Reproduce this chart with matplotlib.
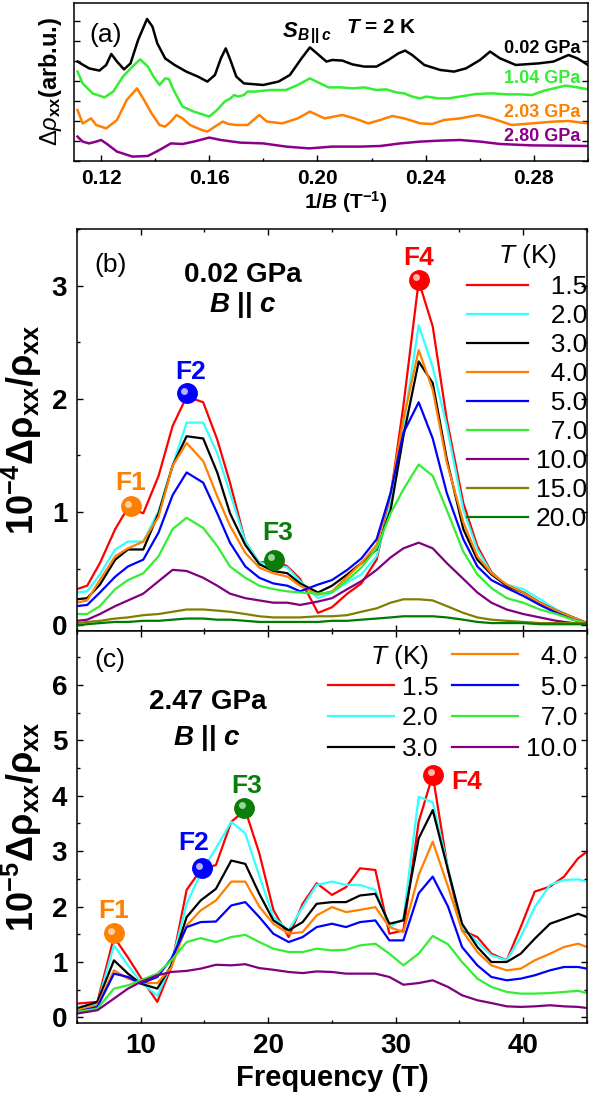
import matplotlib
matplotlib.use('Agg')
import matplotlib.pyplot as plt
from matplotlib.lines import Line2D
from matplotlib import transforms
from matplotlib.ticker import MultipleLocator, FixedLocator, NullFormatter

plt.rcParams['font.family'] = ['Liberation Sans', 'DejaVu Sans']
plt.rcParams['mathtext.fontset'] = 'custom'
plt.rcParams['mathtext.rm'] = 'Liberation Sans'
plt.rcParams['mathtext.it'] = 'Liberation Sans:italic'
plt.rcParams['mathtext.bf'] = 'Liberation Sans:bold'
plt.rcParams['mathtext.bfit'] = 'Liberation Sans:bold:italic'

# ---- panel (a): oscillations vs 1/B at T = 2 K (arbitrary offsets) ----
invb_002 = [0.1113, 0.1156, 0.1194, 0.1219, 0.1238, 0.1259, 0.1285, 0.1309, 0.1337, 0.1370,
            0.1390, 0.1408, 0.1437, 0.1472, 0.1515, 0.1558, 0.1593, 0.1621, 0.1643, 0.1661,
            0.1678, 0.1700, 0.1728, 0.1799, 0.1856, 0.1898, 0.1941, 0.1972, 0.1998, 0.2033,
            0.2055, 0.2092, 0.2129, 0.2173, 0.2218, 0.2262, 0.2299, 0.2324, 0.2350, 0.2395,
            0.2454, 0.2505, 0.2549, 0.2601, 0.2638, 0.2675, 0.2733, 0.2817, 0.2872, 0.2928,
            0.2961, 0.3000]
dr_002 = [4.97, 4.63, 4.52, 4.80, 5.35, 4.97, 4.58, 4.88, 6.05, 7.10,
          6.72, 5.88, 5.13, 4.80, 4.47, 4.22, 3.97, 4.30, 5.13, 5.63,
          5.05, 4.22, 3.88, 3.80, 3.97, 4.30, 5.13, 5.68, 5.38, 4.97,
          5.05, 5.02, 4.83, 4.72, 4.72, 5.05, 5.38, 5.52, 5.30, 4.80,
          4.55, 4.47, 4.63, 5.05, 5.47, 5.13, 4.80, 4.88, 4.97, 5.30,
          5.13, 4.80]

invb_104 = [0.1113, 0.1132, 0.1169, 0.1213, 0.1245, 0.1281, 0.1316, 0.1345, 0.1373, 0.1394,
            0.1416, 0.1437, 0.1451, 0.1465, 0.1501, 0.1543, 0.1600, 0.1629, 0.1657, 0.1678,
            0.1692, 0.1707, 0.1728, 0.1742, 0.1771, 0.1827, 0.1884, 0.1927, 0.1972, 0.2004,
            0.2041, 0.2085, 0.2129, 0.2173, 0.2218, 0.2254, 0.2291, 0.2321, 0.2350, 0.2380,
            0.2402, 0.2424, 0.2446, 0.2483, 0.2527, 0.2586, 0.2645, 0.2704, 0.2748, 0.2793,
            0.2839, 0.2917, 0.2961, 0.3000]
dr_104 = [4.47, 3.88, 3.38, 3.18, 3.47, 4.22, 4.72, 5.08, 4.72, 4.22,
          3.80, 4.13, 4.10, 3.63, 2.72, 2.47, 2.22, 2.55, 2.97, 3.13,
          3.30, 3.22, 3.30, 3.47, 3.47, 3.55, 3.55, 3.80, 4.13, 3.92,
          3.68, 3.68, 3.63, 3.68, 3.55, 3.58, 3.43, 3.38, 3.22, 3.13,
          3.22, 3.18, 3.13, 3.13, 3.22, 3.35, 3.38, 3.33, 3.33, 3.30,
          3.52, 3.77, 3.68, 3.58]

invb_203 = [0.1113, 0.1132, 0.1144, 0.1163, 0.1182, 0.1219, 0.1259, 0.1295, 0.1333, 0.1359,
            0.1387, 0.1416, 0.1437, 0.1458, 0.1479, 0.1501, 0.1529, 0.1572, 0.1593, 0.1621,
            0.1650, 0.1671, 0.1700, 0.1742, 0.1785, 0.1813, 0.1870, 0.1927, 0.1972, 0.2026,
            0.2092, 0.2137, 0.2188, 0.2232, 0.2277, 0.2321, 0.2380, 0.2424, 0.2468, 0.2527,
            0.2594, 0.2645, 0.2718, 0.2793, 0.2872, 0.2928, 0.3000]
dr_203 = [2.55, 1.88, 1.97, 2.13, 1.80, 1.63, 2.05, 3.05, 3.63, 3.05,
          2.38, 1.80, 1.72, 1.97, 2.30, 2.13, 1.80, 1.55, 1.47, 1.72,
          1.97, 1.85, 1.80, 1.80, 2.30, 1.97, 1.88, 2.13, 2.47, 2.13,
          2.30, 2.13, 1.88, 2.05, 2.25, 2.13, 1.88, 1.85, 2.05, 2.13,
          2.30, 2.13, 1.80, 1.88, 1.97, 2.00, 1.88]

invb_280 = [0.1113, 0.1132, 0.1156, 0.1182, 0.1200, 0.1219, 0.1259, 0.1316, 0.1373, 0.1416,
            0.1458, 0.1501, 0.1543, 0.1600, 0.1643, 0.1714, 0.1799, 0.1884, 0.1969, 0.2055,
            0.2159, 0.2232, 0.2306, 0.2380, 0.2454, 0.2527, 0.2601, 0.2675, 0.2793, 0.2872,
            0.3000]
dr_280 = [1.22, 0.97, 0.88, 0.97, 1.05, 0.88, 0.47, 0.22, 0.25, 0.55,
          0.88, 0.85, 0.97, 1.17, 1.05, 0.92, 0.88, 0.72, 0.63, 0.72,
          0.72, 0.75, 0.88, 0.97, 1.02, 1.05, 0.97, 0.85, 0.78, 0.77,
          0.75]

pressures_a = ['0.02 GPa', '1.04 GPa', '2.03 GPa', '2.80 GPa']
colors_a = ['#000000', '#33ee33', '#ff8000', '#8b008b']

# ---- panel (b): FFT amplitude, 0.02 GPa ----
freq_b = [5.0, 5.8, 6.8, 8.0, 9.0, 10.2, 11.4, 12.5, 13.6, 14.9, 16.0, 17.0, 18.2, 19.3,
          20.4, 21.5, 22.5, 23.9, 25.0, 26.2, 27.3, 28.5, 29.6, 30.6, 31.8, 32.9, 34.0,
          35.3, 36.4, 37.5, 38.7, 40.0, 41.3, 42.6, 43.9, 45.0]
b_1p5 = [0.32, 0.35, 0.55, 0.85, 1.04, 0.99, 1.32, 1.76, 2.02, 1.97, 1.64, 1.26, 0.74, 0.55,
         0.58, 0.52, 0.41, 0.11, 0.16, 0.28, 0.37, 0.58, 1.14, 1.94, 3.04, 2.64, 1.82,
         1.08, 0.70, 0.47, 0.35, 0.29, 0.20, 0.13, 0.07, 0.01]
b_2p0 = [0.29, 0.30, 0.45, 0.67, 0.74, 0.74, 1.01, 1.41, 1.79, 1.79, 1.52, 1.17, 0.74, 0.55,
         0.54, 0.51, 0.39, 0.24, 0.29, 0.38, 0.45, 0.61, 1.08, 1.76, 2.65, 2.28, 1.76,
         1.02, 0.67, 0.46, 0.36, 0.32, 0.23, 0.14, 0.07, 0.02]
b_3p0 = [0.23, 0.24, 0.36, 0.58, 0.67, 0.67, 0.99, 1.41, 1.67, 1.65, 1.35, 0.99, 0.71, 0.54,
         0.48, 0.46, 0.37, 0.29, 0.35, 0.45, 0.55, 0.67, 1.02, 1.67, 2.33, 2.14, 1.47,
         0.85, 0.58, 0.45, 0.35, 0.29, 0.20, 0.13, 0.07, 0.02]
b_4p0 = [0.20, 0.22, 0.40, 0.61, 0.68, 0.74, 0.96, 1.41, 1.61, 1.45, 1.14, 0.88, 0.64, 0.51,
         0.46, 0.43, 0.35, 0.27, 0.30, 0.43, 0.55, 0.71, 1.17, 1.82, 2.43, 2.08, 1.44,
         0.91, 0.61, 0.46, 0.36, 0.29, 0.20, 0.13, 0.07, 0.02]
b_5p0 = [0.17, 0.18, 0.29, 0.43, 0.52, 0.58, 0.82, 1.15, 1.35, 1.26, 0.99, 0.73, 0.52, 0.42,
         0.37, 0.35, 0.30, 0.36, 0.40, 0.49, 0.59, 0.76, 1.17, 1.70, 1.97, 1.65, 1.17,
         0.76, 0.52, 0.40, 0.33, 0.26, 0.18, 0.11, 0.05, 0.02]
b_7p0 = [0.10, 0.10, 0.17, 0.32, 0.40, 0.46, 0.61, 0.85, 0.95, 0.86, 0.70, 0.52, 0.42, 0.35,
         0.32, 0.30, 0.29, 0.28, 0.29, 0.40, 0.51, 0.68, 0.99, 1.20, 1.42, 1.32, 1.02,
         0.65, 0.45, 0.33, 0.24, 0.20, 0.14, 0.10, 0.05, 0.02]
b_10 = [0.04, 0.05, 0.10, 0.17, 0.22, 0.28, 0.39, 0.49, 0.48, 0.42, 0.35, 0.28, 0.24, 0.22,
        0.20, 0.20, 0.18, 0.21, 0.24, 0.32, 0.39, 0.49, 0.60, 0.68, 0.73, 0.68, 0.55,
        0.41, 0.29, 0.20, 0.14, 0.10, 0.07, 0.04, 0.02, 0.01]
b_15 = [0.02, 0.03, 0.04, 0.06, 0.07, 0.09, 0.10, 0.12, 0.14, 0.14, 0.13, 0.12, 0.10, 0.08,
        0.07, 0.07, 0.07, 0.08, 0.08, 0.09, 0.12, 0.15, 0.20, 0.23, 0.23, 0.22, 0.17,
        0.11, 0.07, 0.05, 0.04, 0.03, 0.02, 0.02, 0.02, 0.02]
b_20 = [0.00, 0.01, 0.02, 0.03, 0.03, 0.04, 0.04, 0.05, 0.06, 0.06, 0.05, 0.05, 0.04, 0.03,
        0.03, 0.03, 0.03, 0.03, 0.04, 0.04, 0.05, 0.06, 0.07, 0.08, 0.08, 0.08, 0.07,
        0.05, 0.03, 0.02, 0.02, 0.02, 0.01, 0.01, 0.01, 0.01]
temps_b = ['1.5', '2.0', '3.0', '4.0', '5.0', '7.0', '10.0', '15.0', '20.0']
colors_b = ['#ff0000', '#33ffff', '#000000', '#ff8000', '#0000ff', '#33ee33', '#800080',
            '#808000', '#007a00']

# ---- panel (c): FFT amplitude, 2.47 GPa ----
freq_c = [5.0, 6.6, 7.9, 9.0, 10.0, 11.3, 12.4, 13.6, 14.7, 15.9, 17.1, 18.2, 19.3, 20.4,
          21.6, 22.7, 23.8, 25.0, 26.1, 27.2, 28.4, 29.5, 30.6, 31.8, 32.9, 34.1, 35.2,
          36.4, 37.5, 38.7, 39.8, 40.9, 42.1, 43.2, 44.3, 45.0]
c_1p5 = [0.25, 0.28, 1.45, 1.08, 0.72, 0.28, 0.91, 2.30, 2.66, 2.75, 3.53, 3.74, 2.96, 1.94,
         1.45, 2.05, 2.42, 2.21, 2.35, 2.69, 2.66, 1.51, 1.57, 3.53, 4.37, 2.66, 1.57,
         1.45, 1.15, 1.03, 1.63, 2.27, 2.36, 2.54, 2.87, 2.99]
c_2p0 = [0.19, 0.24, 1.30, 0.94, 0.64, 0.39, 0.96, 2.05, 2.60, 3.05, 3.53, 3.32, 2.55, 1.81,
         1.57, 1.99, 2.39, 2.45, 2.39, 2.39, 2.30, 1.63, 1.78, 3.98, 3.88, 2.70, 1.63,
         1.36, 1.12, 1.03, 1.45, 1.99, 2.39, 2.48, 2.49, 2.45]
c_3p0 = [0.16, 0.28, 1.03, 0.79, 0.61, 0.52, 0.94, 1.81, 2.11, 2.32, 2.83, 2.77, 2.23, 1.75,
         1.57, 1.72, 2.05, 2.08, 2.08, 2.20, 2.23, 1.69, 1.75, 3.23, 3.74, 2.66, 1.69,
         1.27, 1.00, 1.00, 1.15, 1.42, 1.69, 1.78, 1.87, 1.81]
c_4p0 = [0.13, 0.22, 0.85, 0.70, 0.62, 0.62, 0.90, 1.66, 1.93, 2.11, 2.45, 2.45, 2.00, 1.69,
         1.51, 1.54, 1.84, 1.99, 1.90, 1.94, 1.99, 1.63, 1.54, 2.57, 3.17, 2.36, 1.57,
         1.18, 0.94, 0.85, 0.88, 1.03, 1.15, 1.27, 1.33, 1.27]
c_5p0 = [0.10, 0.19, 0.79, 0.73, 0.61, 0.73, 1.06, 1.63, 1.72, 1.73, 2.02, 2.08, 1.81, 1.51,
         1.36, 1.45, 1.63, 1.69, 1.63, 1.72, 1.75, 1.39, 1.39, 2.24, 2.54, 2.00, 1.27,
         0.94, 0.73, 0.67, 0.70, 0.76, 0.85, 0.91, 0.91, 0.88]
c_7p0 = [0.10, 0.16, 0.52, 0.58, 0.67, 0.79, 1.03, 1.36, 1.43, 1.36, 1.45, 1.49, 1.36, 1.24,
         1.18, 1.18, 1.24, 1.21, 1.22, 1.30, 1.33, 1.15, 0.94, 1.15, 1.47, 1.32, 1.00,
         0.70, 0.55, 0.46, 0.43, 0.43, 0.44, 0.46, 0.48, 0.44]
c_10 = [0.07, 0.13, 0.34, 0.52, 0.64, 0.76, 0.82, 0.84, 0.88, 0.95, 0.94, 0.96, 0.89, 0.86,
        0.82, 0.80, 0.83, 0.82, 0.79, 0.79, 0.79, 0.73, 0.59, 0.62, 0.67, 0.55, 0.40,
        0.31, 0.26, 0.20, 0.19, 0.20, 0.22, 0.20, 0.19, 0.17]
temps_c = ['1.5', '2.0', '3.0', '4.0', '5.0', '7.0', '10.0']
colors_c = colors_b[:7]

# peak markers: (label, frequency, amplitude, colour)
peaks_b = [('F1', 9.2, 1.05, '#ff8000'), ('F2', 13.6, 2.05, '#0000ff'),
           ('F3', 20.45, 0.58, '#0a7d0a'), ('F4', 31.8, 3.05, '#ff0000')]
peaks_c = [('F1', 7.9, 1.52, '#ff8000'), ('F2', 14.8, 2.69, '#0000ff'),
           ('F3', 18.1, 3.78, '#0a7d0a'), ('F4', 32.95, 4.38, '#ff0000')]
light = {'#ff8000': '#ffd9b0', '#0000ff': '#c8c8ff', '#0a7d0a': '#a8e0a8', '#ff0000': '#ffc8c8'}

fig = plt.figure(figsize=(5.89, 11.02), dpi=100)
ax_a = fig.add_axes([0.1256, 0.8539, 0.8727, 0.1434])
ax_b = fig.add_axes([0.1307, 0.4274, 0.8659, 0.3648])
ax_c = fig.add_axes([0.1307, 0.0717, 0.8659, 0.3557])

for ax in (ax_a, ax_b, ax_c):
    for s in ax.spines.values():
        s.set_linewidth(1.1)
    ax.tick_params(which='major', direction='in', length=4.5, width=1.0)
    ax.tick_params(which='minor', direction='in', length=2.5, width=1.0)

# (a)
for x, y, c in zip([invb_002, invb_104, invb_203, invb_280],
                   [dr_002, dr_104, dr_203, dr_280], colors_a):
    ax_a.plot(x, y, color=c, lw=1.8)
ax_a.set_xlim(0.11, 0.30)
ax_a.set_ylim(0, 7.9)
ax_a.xaxis.set_major_locator(FixedLocator([0.12, 0.16, 0.20, 0.24, 0.28]))
ax_a.xaxis.set_minor_locator(MultipleLocator(0.02))
ax_a.yaxis.set_major_locator(MultipleLocator(1))
ax_a.yaxis.set_major_formatter(NullFormatter())
ax_a.set_xticklabels(['0.12', '0.16', '0.20', '0.24', '0.28'], fontsize=15, fontweight='bold')
ax_a.tick_params(axis='x', which='major', pad=6)
ax_a.tick_params(right=True)
ax_a.text(0.062, 0.80, '(a)', transform=ax_a.transAxes, fontsize=19, ha='center', va='center')
ax_a.text(0.405, 0.81, r'$\mathbfit{S}_{\mathbfit{B}\,\mathbf{||}\,\mathbfit{c}}$',
          transform=ax_a.transAxes, fontsize=16, ha='left', va='center')
ax_a.text(0.598, 0.845, r'$\mathbfit{T}$ = 2 K', transform=ax_a.transAxes, fontsize=15,
          fontweight='bold', ha='center', va='center')
for lab, c, fy in zip(pressures_a, colors_a, [0.715, 0.519, 0.310, 0.152]):
    ax_a.text(0.985, fy, lab, transform=ax_a.transAxes, color=c, fontsize=13,
              fontweight='bold', ha='right', va='center')
fig.text(0.587, 0.8167, r'1/$\mathbfit{B}$ (T$^{\mathbf{-1}}$)', fontsize=15,
         fontweight='bold', ha='center', va='center')
fig.text(0.085, 0.926, r'$\Delta\rho_{\mathbf{xx}}$(arb.u.)', fontsize=17,
         fontweight='bold', rotation=90, ha='center', va='center')


def add_peaks(ax, peaks, offsets):
    hl = transforms.offset_copy(ax.transData, fig=fig, x=-2.5, y=2.5, units='dots')
    for (lab, f, a, c), (dx, dy) in zip(peaks, offsets):
        ax.plot([f], [a], 'o', ms=14, color=c, mec=c, zorder=5)
        ax.plot([f], [a], 'o', ms=5, color=light[c], mec='none', alpha=0.9,
                transform=hl, zorder=6)
        ax.annotate(lab, (f, a), xytext=(dx, dy), textcoords='offset points',
                    color=c, fontsize=19, fontweight='bold', ha='center', va='center')


# (b)
for y, c in zip([b_1p5, b_2p0, b_3p0, b_4p0, b_5p0, b_7p0, b_10, b_15, b_20], colors_b):
    ax_b.plot(freq_b, y, color=c, lw=1.6)
ax_b.set_xlim(5, 45)
ax_b.set_ylim(-0.05, 3.5)
ax_b.xaxis.set_major_locator(MultipleLocator(10))
ax_b.xaxis.set_minor_locator(MultipleLocator(5))
ax_b.yaxis.set_major_locator(MultipleLocator(1))
ax_b.yaxis.set_minor_locator(MultipleLocator(0.5))
ax_b.tick_params(which='both', top=True, right=True, labelbottom=False)
ax_b.tick_params(axis='y', labelsize=20, pad=7)
for t in ax_b.get_yticklabels():
    t.set_fontweight('bold')
add_peaks(ax_b, peaks_b, [(0, 17), (3, 15), (3, 19), (0, 16)])
ax_b.text(0.035, 0.91, '(b)', transform=ax_b.transAxes, fontsize=19, ha='left', va='center')
ax_b.text(0.326, 0.885, '0.02 GPa', transform=ax_b.transAxes, fontsize=20,
          fontweight='bold', ha='center', va='center')
ax_b.text(0.326, 0.81, r'$\mathbfit{B}$ || $\mathbfit{c}$', transform=ax_b.transAxes,
          fontsize=20, fontweight='bold', ha='center', va='center')
hb = [Line2D([], [], color=c, lw=1.6) for c in colors_b]
lb = [t if len(t) == 4 else '  ' + t for t in temps_b]
ax_b.legend(hb, lb, title=r'$T$ (K)', title_fontsize=19, fontsize=19, loc='upper left',
            bbox_to_anchor=(0.765, 0.968), frameon=False, borderpad=0, borderaxespad=0,
            handlelength=2.3, handletextpad=0.3, labelspacing=0.19)
fig.text(0.038, 0.61, r'$\mathbf{10^{-4}\Delta\rho_{xx}/\rho_{xx}}$', fontsize=26,
         rotation=90, ha='center', va='center')

# (c)
for y, c in zip([c_1p5, c_2p0, c_3p0, c_4p0, c_5p0, c_7p0, c_10], colors_c):
    ax_c.plot(freq_c, y, color=c, lw=1.6)
ax_c.set_xlim(5, 45)
ax_c.set_ylim(-0.1, 6.97)
ax_c.xaxis.set_major_locator(MultipleLocator(10))
ax_c.xaxis.set_minor_locator(MultipleLocator(5))
ax_c.yaxis.set_major_locator(MultipleLocator(1))
ax_c.yaxis.set_minor_locator(MultipleLocator(0.5))
ax_c.tick_params(which='both', top=True, right=True)
ax_c.tick_params(axis='both', labelsize=20, pad=7)
for t in ax_c.get_yticklabels() + ax_c.get_xticklabels():
    t.set_fontweight('bold')
add_peaks(ax_c, peaks_c, [(0, 16), (-6, 18), (2, 16), (24, -5)])
ax_c.text(0.035, 0.925, '(c)', transform=ax_c.transAxes, fontsize=19, ha='left', va='center')
ax_c.text(0.257, 0.82, '2.47 GPa', transform=ax_c.transAxes, fontsize=20,
          fontweight='bold', ha='center', va='center')
ax_c.text(0.255, 0.727, r'$\mathbfit{B}$ || $\mathbfit{c}$', transform=ax_c.transAxes,
          fontsize=20, fontweight='bold', ha='center', va='center')
hc = [Line2D([], [], lw=0)] + [Line2D([], [], color=c, lw=1.6) for c in colors_c]
lc = [' '] + [t if len(t) == 4 or i < 3 else '  ' + t for i, t in enumerate(temps_c)]
ax_c.legend(hc, lc, ncol=2, fontsize=19, loc='upper left', bbox_to_anchor=(0.492, 0.965),
            frameon=False, borderpad=0, borderaxespad=0, handlelength=2.5,
            handletextpad=0.3, labelspacing=0.26, columnspacing=0.5)
ax_c.text(0.633, 0.934, r'$T$ (K)', transform=ax_c.transAxes, fontsize=19,
          ha='center', va='center')
ax_c.set_xlabel('Frequency (T)', fontsize=21, fontweight='bold', labelpad=4)
fig.text(0.038, 0.25, r'$\mathbf{10^{-5}\Delta\rho_{xx}/\rho_{xx}}$', fontsize=26,
         rotation=90, ha='center', va='center')

fig.savefig('out.png', dpi=100)
